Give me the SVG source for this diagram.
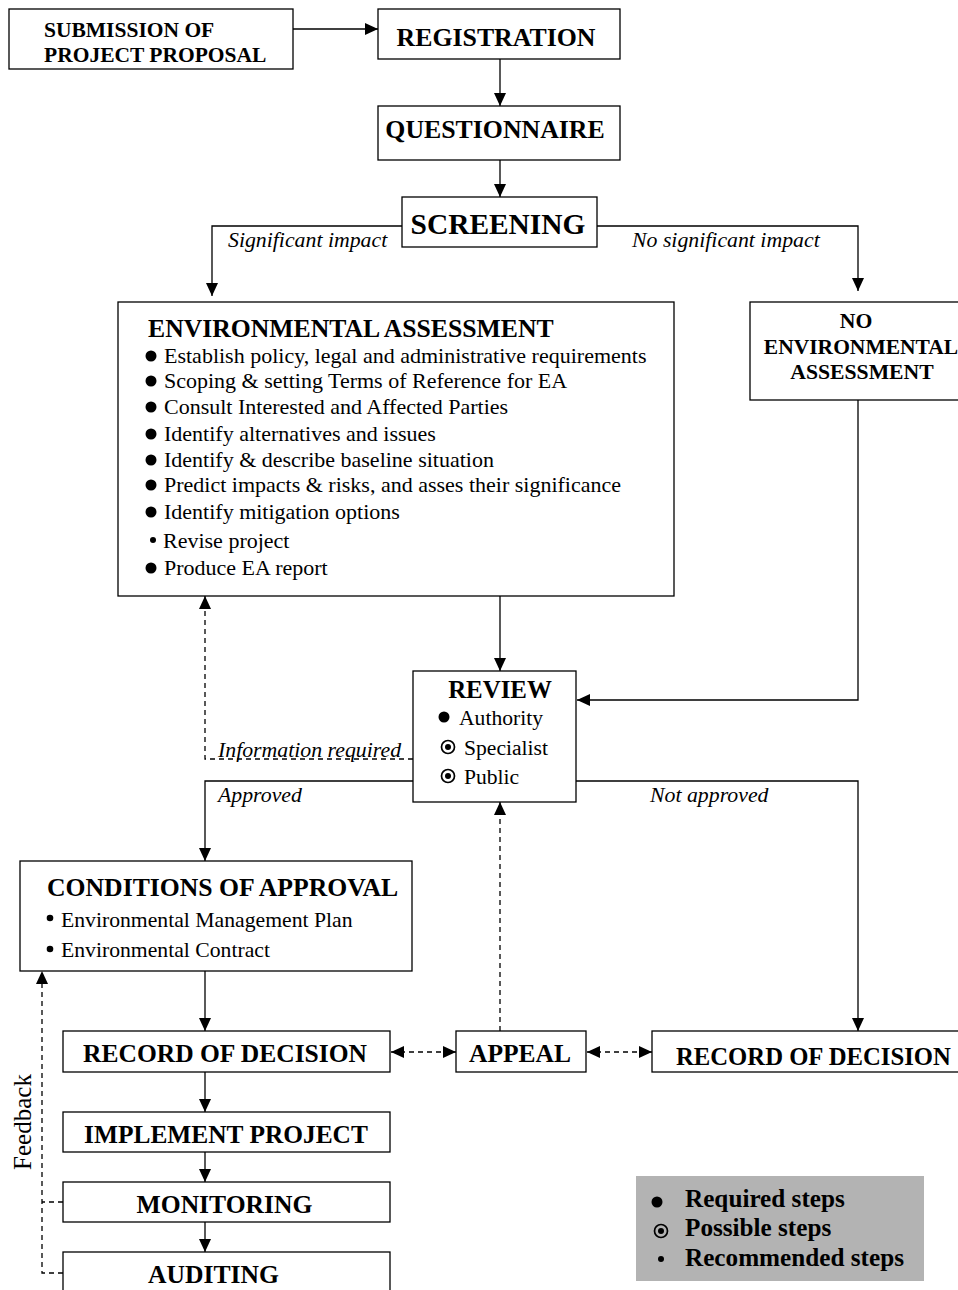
<svg xmlns="http://www.w3.org/2000/svg" width="958" height="1290" viewBox="0 0 958 1290">
<style>
.box{fill:#fff;stroke:#000;stroke-width:1.3}
.t{font-family:"Liberation Serif","Times New Roman",serif;fill:#000}
.b{font-weight:bold}
.i{font-style:italic}
.ln{fill:none;stroke:#000;stroke-width:1.3}
.dash{stroke-dasharray:5,4}
</style>
<defs>
<marker id="ah" markerUnits="userSpaceOnUse" markerWidth="14" markerHeight="12" refX="13" refY="6" orient="auto-start-reverse" viewBox="0 0 14 12">
<path d="M0,0 L13,6 L0,12 z" fill="#000"/>
</marker>
</defs>
<rect width="958" height="1290" fill="#fff"/>

<g id="connectors">
<line class="ln" x1="293" y1="29" x2="378" y2="29" marker-end="url(#ah)"/>
<line class="ln" x1="500" y1="59" x2="500" y2="106" marker-end="url(#ah)"/>
<line class="ln" x1="500" y1="160" x2="500" y2="197" marker-end="url(#ah)"/>
<polyline class="ln" points="402,226 212,226 212,296" marker-end="url(#ah)"/>
<polyline class="ln" points="597,226 858,226 858,291" marker-end="url(#ah)"/>
<line class="ln" x1="500" y1="596" x2="500" y2="671" marker-end="url(#ah)"/>
<polyline class="ln" points="858,400 858,700 577,700" marker-end="url(#ah)"/>
<polyline class="ln dash" points="413,759 205,759 205,596" marker-end="url(#ah)"/>
<polyline class="ln" points="413,781 205,781 205,861" marker-end="url(#ah)"/>
<polyline class="ln" points="576,781 858,781 858,1031" marker-end="url(#ah)"/>
<line class="ln" x1="205" y1="971" x2="205" y2="1031" marker-end="url(#ah)"/>
<line class="ln dash" x1="391" y1="1052" x2="456" y2="1052" marker-start="url(#ah)" marker-end="url(#ah)"/>
<line class="ln dash" x1="587" y1="1052" x2="652" y2="1052" marker-start="url(#ah)" marker-end="url(#ah)"/>
<line class="ln dash" x1="500" y1="1031" x2="500" y2="802" marker-end="url(#ah)"/>
<line class="ln" x1="205" y1="1072" x2="205" y2="1112" marker-end="url(#ah)"/>
<line class="ln" x1="205" y1="1152" x2="205" y2="1182" marker-end="url(#ah)"/>
<line class="ln" x1="205" y1="1222" x2="205" y2="1252" marker-end="url(#ah)"/>
<polyline class="ln dash" points="63,1202 42,1202"/>
<polyline class="ln dash" points="63,1273 42,1273 42,971" marker-end="url(#ah)"/>
<text class="t i" x="228" y="247" font-size="21.8">Significant impact</text>
<text class="t i" x="632" y="247" font-size="21.8">No significant impact</text>
<text class="t i" x="218" y="757" font-size="21.8">Information required</text>
<text class="t i" x="218" y="802" font-size="21.8">Approved</text>
<text class="t i" x="650" y="802" font-size="21.8">Not approved</text>
<text class="t" x="0" y="0" font-size="25" text-anchor="middle" transform="translate(31,1122) rotate(-90)">Feedback</text>
</g>

<g id="submission">
<rect class="box" x="9" y="9" width="284" height="60"/>
<text class="t b" x="44" y="37" font-size="21.5">SUBMISSION OF</text>
<text class="t b" x="44" y="62" font-size="21.5">PROJECT PROPOSAL</text>
</g>

<g id="registration">
<rect class="box" x="378" y="9" width="242" height="50"/>
<text class="t b" x="496" y="46" font-size="25.8" text-anchor="middle">REGISTRATION</text>
</g>

<g id="questionnaire">
<rect class="box" x="378" y="106" width="242" height="54"/>
<text class="t b" x="495" y="138" font-size="25.8" text-anchor="middle">QUESTIONNAIRE</text>
</g>

<g id="screening">
<rect class="box" x="402" y="197" width="195" height="50"/>
<text class="t b" x="498" y="234" font-size="29.4" text-anchor="middle">SCREENING</text>
</g>

<g id="ea">
<rect class="box" x="118" y="302" width="556" height="294"/>
<text class="t b" x="148" y="337" font-size="25.7">ENVIRONMENTAL ASSESSMENT</text>
<g fill="#000">
<circle cx="151" cy="356" r="5.5"/>
<circle cx="151" cy="381" r="5.5"/>
<circle cx="151" cy="407" r="5.5"/>
<circle cx="151" cy="434" r="5.5"/>
<circle cx="151" cy="460" r="5.5"/>
<circle cx="151" cy="485" r="5.5"/>
<circle cx="151" cy="512" r="5.5"/>
<circle cx="153" cy="540" r="3"/>
<circle cx="151" cy="568" r="5.5"/>
</g>
<g class="t" font-size="22">
<text x="164" y="363">Establish policy, legal and administrative requirements</text>
<text x="164" y="388">Scoping &amp; setting Terms of Reference for EA</text>
<text x="164" y="414">Consult Interested and Affected Parties</text>
<text x="164" y="441">Identify alternatives and issues</text>
<text x="164" y="467">Identify &amp; describe baseline situation</text>
<text x="164" y="492">Predict impacts &amp; risks, and asses their significance</text>
<text x="164" y="519">Identify mitigation options</text>
<text x="163" y="548">Revise project</text>
<text x="164" y="575">Produce EA report</text>
</g>
</g>

<g id="no-ea">
<rect class="box" x="750" y="302" width="220" height="98"/>
<text class="t b" x="856" y="328" font-size="21.7" text-anchor="middle">NO</text>
<text class="t b" x="861" y="354" font-size="21.5" text-anchor="middle">ENVIRONMENTAL</text>
<text class="t b" x="862" y="379" font-size="21.7" text-anchor="middle">ASSESSMENT</text>
</g>

<g id="review">
<rect class="box" x="413" y="671" width="163" height="131"/>
<text class="t b" x="500" y="698" font-size="24.9" text-anchor="middle">REVIEW</text>
<circle cx="444" cy="717" r="5.5" fill="#000"/>
<circle cx="448" cy="747" r="6.5" fill="none" stroke="#000" stroke-width="1.7"/>
<circle cx="448" cy="747" r="3" fill="#000"/>
<circle cx="448" cy="776" r="6.5" fill="none" stroke="#000" stroke-width="1.7"/>
<circle cx="448" cy="776" r="3" fill="#000"/>
<text class="t" x="459" y="725" font-size="21.6">Authority</text>
<text class="t" x="464" y="755" font-size="21.6">Specialist</text>
<text class="t" x="464" y="784" font-size="21.6">Public</text>
</g>

<g id="conditions">
<rect class="box" x="20" y="861" width="392" height="110"/>
<text class="t b" x="47" y="896" font-size="25.7">CONDITIONS OF APPROVAL</text>
<circle cx="50" cy="918" r="3.3" fill="#000"/>
<circle cx="50" cy="949" r="3.3" fill="#000"/>
<text class="t" x="61" y="927" font-size="21.7">Environmental Management Plan</text>
<text class="t" x="61" y="957" font-size="21.7">Environmental Contract</text>
</g>

<g id="record-left">
<rect class="box" x="63" y="1031" width="327" height="41"/>
<text class="t b" x="225" y="1062" font-size="25.5" text-anchor="middle">RECORD OF DECISION</text>
</g>

<g id="appeal">
<rect class="box" x="456" y="1031" width="130" height="41"/>
<text class="t b" x="520" y="1062" font-size="25.5" text-anchor="middle">APPEAL</text>
</g>

<g id="record-right">
<rect class="box" x="652" y="1031" width="320" height="41"/>
<text class="t b" x="676" y="1065" font-size="24.7">RECORD OF DECISION</text>
</g>

<g id="implement">
<rect class="box" x="63" y="1112" width="327" height="40"/>
<text class="t b" x="226" y="1143" font-size="25.4" text-anchor="middle">IMPLEMENT PROJECT</text>
</g>

<g id="monitoring">
<rect class="box" x="63" y="1182" width="327" height="40"/>
<text class="t b" x="224.5" y="1213" font-size="25.6" text-anchor="middle">MONITORING</text>
</g>

<g id="auditing">
<rect class="box" x="63" y="1252" width="327" height="50"/>
<text class="t b" x="213.5" y="1283" font-size="25.6" text-anchor="middle">AUDITING</text>
</g>

<g id="legend">
<rect x="636" y="1176" width="288" height="105" fill="#b3b3b3"/>
<circle cx="657" cy="1202" r="5.5" fill="#000"/>
<circle cx="661" cy="1231" r="6.5" fill="none" stroke="#000" stroke-width="1.7"/>
<circle cx="661" cy="1231" r="3" fill="#000"/>
<circle cx="661" cy="1259" r="3" fill="#000"/>
<text class="t b" x="685" y="1207" font-size="25.2">Required steps</text>
<text class="t b" x="685" y="1236" font-size="25.2">Possible steps</text>
<text class="t b" x="685" y="1266" font-size="25.2">Recommended steps</text>
</g>
</svg>
